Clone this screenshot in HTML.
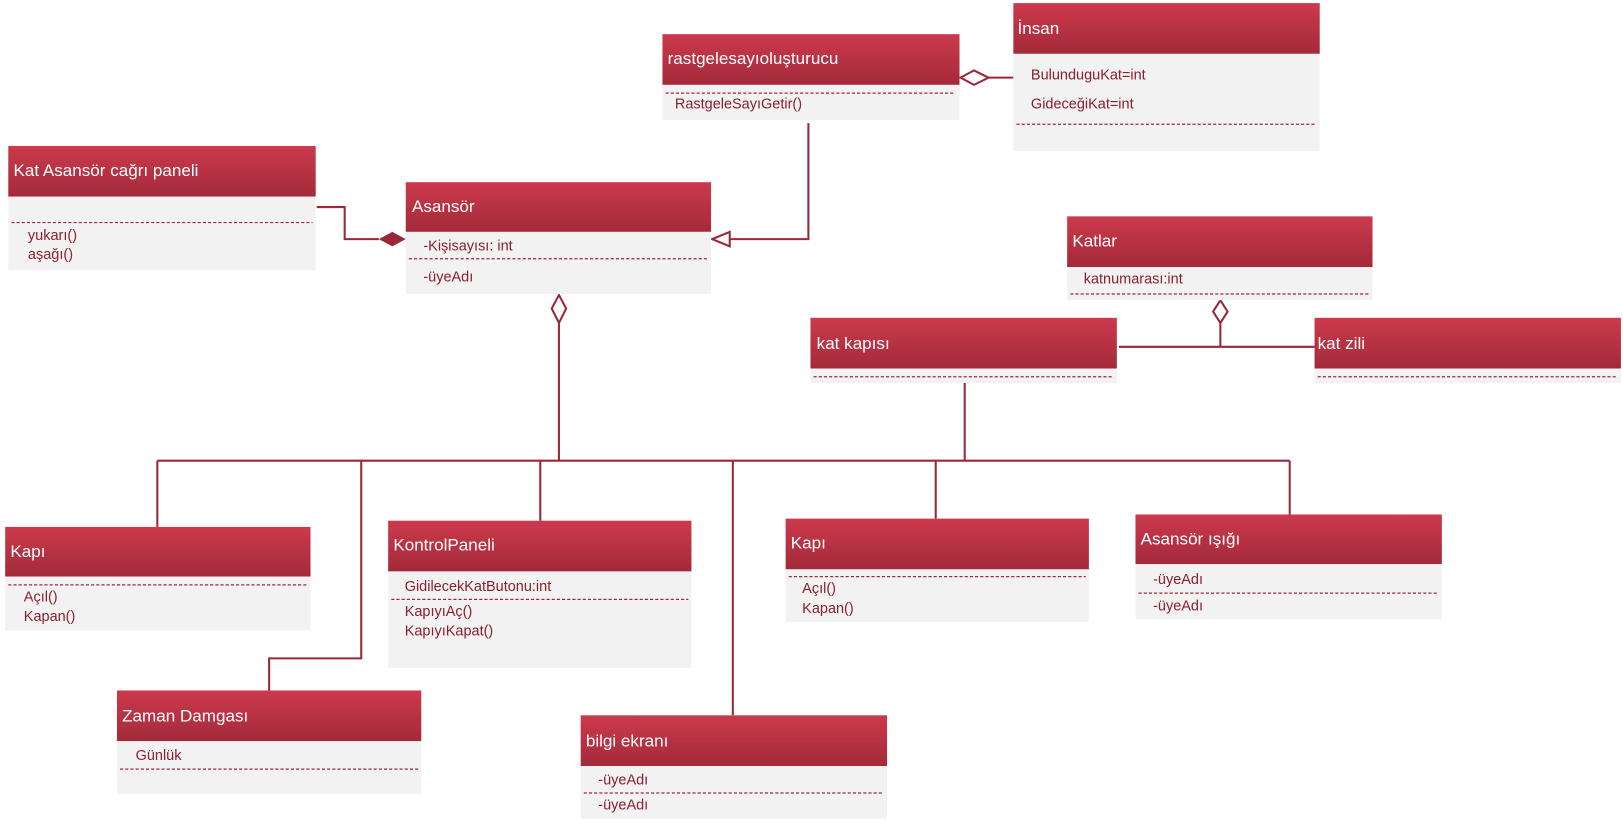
<!DOCTYPE html>
<html><head><meta charset="utf-8"><style>
html,body{margin:0;padding:0;background:#fff;}
svg{display:block;font-family:"Liberation Sans Narrow","Liberation Sans",sans-serif;}
.t{fill:#fff;font-size:16.5px;}
.b{fill:#8a1f2e;font-size:14px;}
.d{stroke:#a0283a;stroke-width:1.2;stroke-dasharray:3,2;}
.c{stroke:#9b2838;stroke-width:2;fill:none;}
</style></head><body>
<svg width="1623" height="824" viewBox="0 0 1568 796" preserveAspectRatio="none">
<defs><linearGradient id="g" x1="0" y1="0" x2="0" y2="1"><stop offset="0" stop-color="#cc3a4c"/><stop offset="1" stop-color="#a32a3a"/></linearGradient></defs>

<path class="c" d="M781 119 V231 H705"/>
<path d="M688 231 L705 224 L705 238 Z" fill="#fff" stroke="#9b2838" stroke-width="2"/>
<path class="c" d="M955 75 H979"/>
<path d="M928 75 L941 68 L955 75 L941 82 Z" fill="#fff" stroke="#9b2838" stroke-width="2"/>
<path class="c" d="M306 200 H333 V231 H366"/>
<path d="M366 231 L379 224 L392 231 L379 238 Z" fill="#9b2838"/>
<path class="c" d="M540 312 V445 M152 445 H1246 M152 445 V509 M349 445 V636 H260 V667 M522 445 V503 M708 445 V691 M904 445 V501 M1246 445 V497 M932 445 V370"/>
<path d="M540 285 L547 298 L540 312 L533 298 Z" fill="#fff" stroke="#9b2838" stroke-width="2"/>
<path class="c" d="M1179 312 V335 M1081 335 H1270"/>
<path d="M1179 290 L1186 301 L1179 312 L1172 301 Z" fill="#fff" stroke="#9b2838" stroke-width="2"/>

<rect x="640" y="33" width="287" height="49" fill="url(#g)"/><rect x="640" y="82" width="287" height="34" fill="#f2f2f2"/>
<text class="t" x="645" y="62">rastgelesayıoluşturucu</text>
<line class="d" x1="643" y1="90" x2="923" y2="90"/>
<text class="b" x="652" y="105">RastgeleSayıGetir()</text>

<rect x="979" y="3" width="296" height="49" fill="url(#g)"/><rect x="979" y="52" width="296" height="94" fill="#f2f2f2"/>
<text class="t" x="983" y="33">İnsan</text>
<text class="b" x="996" y="77">BulunduguKat=int</text>
<text class="b" x="996" y="105">GideceğiKat=int</text>
<line class="d" x1="982" y1="120" x2="1272" y2="120"/>

<rect x="8" y="141" width="297" height="49" fill="url(#g)"/><rect x="8" y="190" width="297" height="71" fill="#f2f2f2"/>
<text class="t" x="13" y="170">Kat Asansör cağrı paneli</text>
<line class="d" x1="11" y1="215" x2="302" y2="215"/>
<text class="b" x="27" y="232">yukarı()</text>
<text class="b" x="27" y="250">aşağı()</text>

<rect x="392" y="176" width="295" height="48" fill="url(#g)"/><rect x="392" y="224" width="295" height="60" fill="#f2f2f2"/>
<text class="t" x="398" y="205">Asansör</text>
<text class="b" x="409" y="242">-Kişisayısı: int</text>
<line class="d" x1="395" y1="250" x2="684" y2="250"/>
<text class="b" x="409" y="272">-üyeAdı</text>

<rect x="1031" y="209" width="295" height="49" fill="url(#g)"/><rect x="1031" y="258" width="295" height="32" fill="#f2f2f2"/>
<text class="t" x="1036" y="238">Katlar</text>
<text class="b" x="1047" y="274">katnumarası:int</text>
<line class="d" x1="1034" y1="284" x2="1323" y2="284"/>

<rect x="783" y="307" width="296" height="49" fill="url(#g)"/><rect x="783" y="356" width="296" height="14" fill="#f2f2f2"/>
<text class="t" x="789" y="337">kat kapısı</text>
<line class="d" x1="786" y1="364" x2="1076" y2="364"/>

<rect x="1270" y="307" width="296" height="49" fill="url(#g)"/><rect x="1270" y="356" width="296" height="14" fill="#f2f2f2"/>
<text class="t" x="1273" y="337">kat zili</text>
<line class="d" x1="1273" y1="364" x2="1563" y2="364"/>

<rect x="5" y="509" width="295" height="48" fill="url(#g)"/><rect x="5" y="557" width="295" height="52" fill="#f2f2f2"/>
<text class="t" x="10" y="538">Kapı</text>
<line class="d" x1="8" y1="565" x2="297" y2="565"/>
<text class="b" x="23" y="581">Açıl()</text>
<text class="b" x="23" y="600">Kapan()</text>

<rect x="375" y="503" width="293" height="49" fill="url(#g)"/><rect x="375" y="552" width="293" height="93" fill="#f2f2f2"/>
<text class="t" x="380" y="532">KontrolPaneli</text>
<text class="b" x="391" y="571">GidilecekKatButonu:int</text>
<line class="d" x1="378" y1="579" x2="665" y2="579"/>
<text class="b" x="391" y="595">KapıyıAç()</text>
<text class="b" x="391" y="614">KapıyıKapat()</text>

<rect x="759" y="501" width="293" height="49" fill="url(#g)"/><rect x="759" y="550" width="293" height="51" fill="#f2f2f2"/>
<text class="t" x="764" y="530">Kapı</text>
<line class="d" x1="762" y1="557" x2="1049" y2="557"/>
<text class="b" x="775" y="573">Açıl()</text>
<text class="b" x="775" y="592">Kapan()</text>

<rect x="1097" y="497" width="296" height="48" fill="url(#g)"/><rect x="1097" y="545" width="296" height="53" fill="#f2f2f2"/>
<text class="t" x="1102" y="526">Asansör ışığı</text>
<text class="b" x="1114" y="564">-üyeAdı</text>
<line class="d" x1="1100" y1="573" x2="1390" y2="573"/>
<text class="b" x="1114" y="590">-üyeAdı</text>

<rect x="113" y="667" width="294" height="49" fill="url(#g)"/><rect x="113" y="716" width="294" height="51" fill="#f2f2f2"/>
<text class="t" x="118" y="697">Zaman Damgası</text>
<text class="b" x="131" y="734">Günlük</text>
<line class="d" x1="116" y1="743" x2="404" y2="743"/>

<rect x="561" y="691" width="296" height="49" fill="url(#g)"/><rect x="561" y="740" width="296" height="51" fill="#f2f2f2"/>
<text class="t" x="566" y="721">bilgi ekranı</text>
<text class="b" x="578" y="758">-üyeAdı</text>
<line class="d" x1="564" y1="766" x2="854" y2="766"/>
<text class="b" x="578" y="782">-üyeAdı</text>
</svg>
</body></html>
